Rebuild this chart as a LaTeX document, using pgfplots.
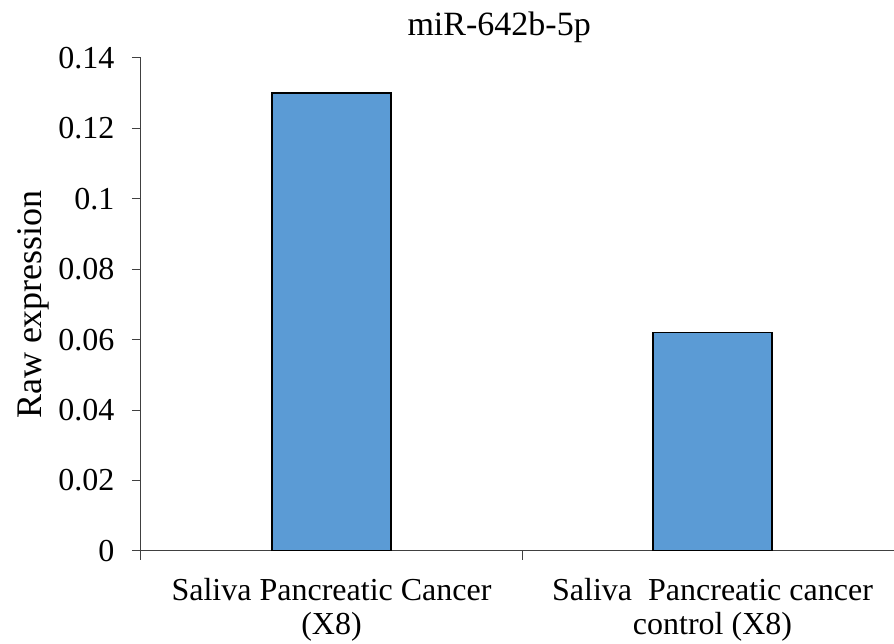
\documentclass[border=0pt]{standalone}
\usepackage{pgfplots}
\pgfplotsset{compat=1.18}
\usepackage{fontspec}
\setmainfont{Liberation Serif}
\definecolor{barblue}{HTML}{5B9BD5}
\definecolor{axgray}{HTML}{404040}

\begin{document}
\begin{tikzpicture}
% frame of the whole picture, 1pt = 1px of the reference
\useasboundingbox (-141pt,-93pt) rectangle (753pt,551pt);
\begin{axis}[
  scale only axis,
  width=762pt, height=493pt,
  xmin=-0.5, xmax=1.5,
  ymin=0, ymax=0.14,
  axis x line*=bottom,
  axis y line*=left,
  axis line style={axgray, line width=1pt},
  ytick={0,0.02,...,0.14},
  yticklabels={0,0.02,0.04,0.06,0.08,0.1,0.12,0.14},
  xtick={0,1},
  xticklabels={{Saliva Pancreatic Cancer\\(X8)},{Saliva\ \ Pancreatic cancer\\control (X8)}},
  minor xtick={-0.5,0.5,1.5},
  tick align=outside,
  major tick length=9pt,
  minor tick length=9pt,
  x tick style={draw=none},
  minor x tick style={draw=axgray, line width=1pt},
  y tick style={axgray, line width=1pt},
  yticklabel style={font=\fontsize{32}{30}\selectfont, xshift=-14pt},
  xticklabel style={font=\fontsize{32}{34}\selectfont, align=center, yshift=-15pt},
  ylabel={Raw expression},
  ylabel style={font=\fontsize{36}{36}\selectfont, at={(ticklabel cs:0.5)}, anchor=south, yshift=2pt},
  title={miR-642b-5p},
  title style={font=\fontsize{34}{34}\selectfont, at={(0.47,1)}, anchor=south, yshift=6pt},
  /pgf/number format/assume math mode=true,
]
\addplot[ybar, bar width=0.312, fill=barblue, draw=black, line width=1.5pt]
  coordinates {(0,0.130) (1,0.062)};
\end{axis}
\end{tikzpicture}
\end{document}
